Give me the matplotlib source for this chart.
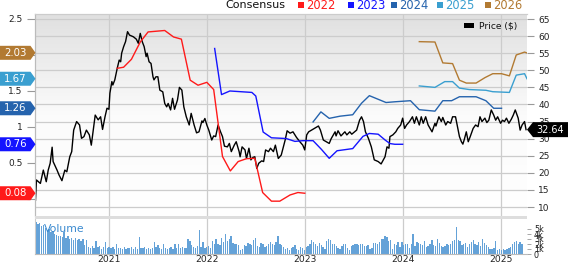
import numpy as np
import matplotlib
matplotlib.use("Agg")
import matplotlib.pyplot as plt
from matplotlib.patches import Polygon, Rectangle
from matplotlib.transforms import IdentityTransform
from matplotlib.colors import LinearSegmentedColormap

plt.rcParams['font.family'] = ['DejaVu Sans']

# ---------------- data ----------------
price_t_2020 = [2020.25, 2020.26, 2020.30, 2020.33, 2020.36, 2020.38, 2020.40, 2020.42, 2020.43, 2020.47,
                2020.49, 2020.52, 2020.55, 2020.57, 2020.60, 2020.62, 2020.64, 2020.67, 2020.70, 2020.72,
                2020.745, 2020.77, 2020.80, 2020.82, 2020.86, 2020.89, 2020.915, 2020.935, 2020.96, 2020.98]
price_2020 = [12.0, 17.9, 16.9, 20.8, 17.4, 20.8, 22.8, 27.5, 23.3, 20.8,
              19.4, 17.7, 20.8, 20.3, 24.7, 26.2, 32.5, 35.0, 34.0, 30.1,
              30.6, 32.5, 31.1, 28.1, 36.9, 35.5, 36.4, 32.7, 36.4, 38.9]
price_t_2021 = [2021.00, 2021.01, 2021.03, 2021.04, 2021.06, 2021.085, 2021.105, 2021.12, 2021.13, 2021.15,
                2021.17, 2021.19, 2021.21, 2021.25, 2021.28, 2021.30, 2021.32, 2021.34, 2021.36, 2021.38,
                2021.39, 2021.41, 2021.43, 2021.45, 2021.46, 2021.48, 2021.50, 2021.52, 2021.55, 2021.57,
                2021.59, 2021.605, 2021.63, 2021.65, 2021.67, 2021.70, 2021.72, 2021.745, 2021.765, 2021.79,
                2021.82, 2021.84, 2021.87, 2021.895, 2021.92, 2021.95, 2021.96, 2021.98]
price_2021 = [38.6, 43.3, 46.7, 45.7, 47.2, 50.6, 53.0, 52.5, 55.0, 56.9,
              58.4, 61.3, 60.3, 59.8, 59.1, 57.9, 60.8, 58.4, 56.9, 54.0,
              55.0, 52.5, 52.0, 48.1, 47.2, 48.1, 48.1, 44.2, 43.7, 40.3,
              39.3, 40.3, 38.4, 41.8, 38.6, 41.3, 45.0, 44.2, 39.3, 36.4,
              34.0, 37.4, 34.0, 31.7, 32.0, 35.2, 34.7, 35.9]
price_t_2022 = [2022.00, 2022.02, 2022.05, 2022.07, 2022.09, 2022.115, 2022.14, 2022.16, 2022.18, 2022.21,
                2022.23, 2022.25, 2022.28, 2022.30, 2022.31, 2022.33, 2022.34, 2022.36, 2022.39, 2022.405,
                2022.43, 2022.45, 2022.47, 2022.49, 2022.51, 2022.53, 2022.56, 2022.58, 2022.60, 2022.63,
                2022.65, 2022.68, 2022.70, 2022.73, 2022.76, 2022.80, 2022.82, 2022.85, 2022.88, 2022.915,
                2022.95, 2022.98]
price_2022 = [34.0, 32.5, 29.6, 30.8, 30.6, 34.0, 32.0, 30.6, 27.8, 27.6,
              28.6, 26.2, 28.1, 29.1, 28.1, 26.2, 24.7, 27.6, 26.7, 24.2,
              27.2, 23.8, 24.5, 24.7, 21.3, 22.8, 23.5, 23.3, 26.7, 26.2,
              27.2, 26.2, 28.1, 24.2, 25.2, 29.6, 32.3, 31.6, 32.0, 30.4,
              29.1, 28.1]
price_t_2023 = [2023.00, 2023.02, 2023.04, 2023.07, 2023.10, 2023.14, 2023.16, 2023.19, 2023.22, 2023.25,
                2023.27, 2023.31, 2023.32, 2023.34, 2023.37, 2023.41, 2023.43, 2023.46, 2023.48, 2023.51,
                2023.53, 2023.56, 2023.58, 2023.60, 2023.62, 2023.65, 2023.68, 2023.71, 2023.75, 2023.78,
                2023.82, 2023.84, 2023.86, 2023.87, 2023.90, 2023.93, 2023.95, 2023.98]
price_2023 = [26.7, 31.1, 32.0, 32.5, 33.0, 33.7, 32.5, 29.6, 29.1, 28.6,
              30.0, 32.0, 30.8, 32.3, 30.8, 32.0, 31.1, 32.0, 31.3, 32.0,
              32.5, 35.4, 36.4, 35.0, 32.0, 30.1, 27.6, 23.8, 23.3, 22.6,
              24.7, 27.6, 27.2, 30.6, 31.1, 32.0, 33.0, 34.0]
price_t_2024 = [2024.00, 2024.02, 2024.04, 2024.07, 2024.10, 2024.12, 2024.14, 2024.17, 2024.19, 2024.21,
                2024.235, 2024.26, 2024.28, 2024.30, 2024.33, 2024.34, 2024.37, 2024.395, 2024.41, 2024.44,
                2024.46, 2024.49, 2024.51, 2024.54, 2024.56, 2024.58, 2024.60, 2024.615, 2024.63, 2024.65,
                2024.67, 2024.69, 2024.72, 2024.745, 2024.77, 2024.79, 2024.81, 2024.84, 2024.86, 2024.88,
                2024.905, 2024.93, 2024.95, 2024.97]
price_2024 = [36.0, 33.0, 34.0, 35.0, 36.4, 34.5, 36.4, 34.0, 36.4, 34.5,
              36.4, 34.0, 33.0, 32.0, 34.5, 33.7, 36.4, 35.0, 36.2, 34.0,
              35.0, 34.5, 36.4, 36.4, 33.5, 30.6, 29.1, 28.4, 29.8, 32.0,
              29.1, 30.6, 33.0, 34.0, 33.5, 36.4, 35.0, 36.0, 34.7, 35.4,
              38.4, 36.9, 35.4, 36.4]
price_t_2025 = [2025.00, 2025.02, 2025.04, 2025.06, 2025.085, 2025.11, 2025.13, 2025.15, 2025.18, 2025.20,
                2025.22, 2025.245, 2025.26]
price_2025 = [34.5, 35.4, 35.0, 36.0, 34.5, 35.7, 36.9, 38.4, 36.0, 32.5,
              34.0, 35.0, 32.64]

eps22_t = [2021.085, 2021.15, 2021.23, 2021.32, 2021.40, 2021.57, 2021.66, 2021.74, 2021.83, 2021.91,
           2022.00, 2022.07, 2022.16, 2022.24, 2022.32, 2022.405, 2022.49, 2022.57, 2022.66, 2022.745,
           2022.85, 2022.93, 2023.00]
eps22 = [1.815, 1.83, 1.94, 2.18, 2.32, 2.34, 2.25, 2.22, 1.65, 1.58,
         1.62, 1.52, 0.59, 0.39, 0.52, 0.56, 0.565, 0.09, -0.03, -0.03,
         0.056, 0.09, 0.08]
eps23_t = [2022.08, 2022.15, 2022.235, 2022.46, 2022.50, 2022.575, 2022.66, 2022.81, 2022.90, 2022.98,
           2023.085, 2023.17, 2023.25, 2023.33, 2023.49, 2023.595, 2023.66, 2023.75, 2023.82, 2023.87,
           2023.92, 2024.00]
eps23 = [2.09, 1.45, 1.50, 1.48, 1.43, 0.93, 0.85, 0.84, 0.80, 0.81,
         0.81, 0.69, 0.565, 0.67, 0.70, 0.87, 0.91, 0.90, 0.82, 0.77,
         0.76, 0.76]
eps24_t = [2023.085, 2023.165, 2023.25, 2023.36, 2023.49, 2023.58, 2023.66, 2023.83, 2023.92, 2024.08,
           2024.17, 2024.33, 2024.41, 2024.50, 2024.58, 2024.75, 2024.85, 2024.93, 2025.01]
eps24 = [1.07, 1.21, 1.12, 1.15, 1.17, 1.33, 1.435, 1.34, 1.35, 1.365,
         1.24, 1.22, 1.365, 1.365, 1.42, 1.42, 1.365, 1.26, 1.26]
eps25_t = [2024.17, 2024.33, 2024.43, 2024.51, 2024.58, 2024.68, 2024.85, 2024.92, 2025.09, 2025.16,
           2025.245, 2025.27]
eps25 = [1.57, 1.55, 1.63, 1.63, 1.54, 1.52, 1.51, 1.49, 1.48, 1.72,
         1.74, 1.67]
eps26_t = [2024.17, 2024.33, 2024.41, 2024.51, 2024.58, 2024.65, 2024.75, 2024.84, 2024.92, 2025.01,
           2025.09, 2025.16, 2025.245, 2025.265]
eps26 = [2.185, 2.18, 1.89, 1.88, 1.65, 1.61, 1.61, 1.685, 1.74, 1.74,
         1.71, 2.00, 2.04, 2.03]

# weekly volume, thousands of shares
volume_k = [6.5, 6.0, 6.3, 5.6, 5.8, 5.2, 4.8, 5.0, 4.4, 4.6, 4.1, 3.8, 3.6,
            3.7, 3.5, 4.5, 3.3, 3.6, 3.0, 3.3, 2.8, 3.2, 2.9, 3.1, 2.7, 3.0,
            1.8, 2.8, 1.5, 1.3, 1.7, 1.2, 2.7, 1.4, 1.6, 1.1, 1.5, 2.5, 1.3,
            1.4, 1.2, 1.5, 1.0, 2.0, 1.3, 1.2, 1.1, 1.4, 1.0, 1.3, 1.2, 1.5,
            1.1, 1.4, 1.0, 3.5, 1.3, 1.2, 1.5, 1.1, 1.3, 1.0, 1.2, 2.5, 1.4,
            1.8, 1.2, 1.1, 2.1, 1.3, 1.0, 1.2, 1.4, 1.1, 2.0, 1.3, 2.0, 1.2,
            1.5, 1.3, 1.2, 3.1, 2.7, 1.8, 1.4, 1.3, 1.6, 4.9, 1.5, 2.5, 1.2,
            1.5, 1.6, 1.3, 2.7, 2.0, 3.1, 2.0, 1.8, 3.3, 2.5, 4.0, 2.6, 3.1,
            3.7, 2.3, 2.1, 2.0, 1.9, 0.9, 1.0, 1.8, 1.7, 2.3, 2.0, 1.8, 2.9,
            3.3, 1.6, 1.5, 2.3, 2.1, 1.5, 1.6, 2.1, 2.4, 2.0, 1.8, 2.5, 3.6,
            2.0, 1.8, 1.5, 1.1, 1.3, 0.9, 1.3, 1.5, 1.8, 1.1, 0.9, 1.5, 1.3,
            0.9, 1.5, 1.6, 2.1, 2.8, 2.5, 2.0, 1.6, 2.3, 1.8, 1.5, 1.0, 2.7,
            3.1, 2.8, 2.0, 2.0, 1.6, 1.3, 1.1, 1.6, 2.0, 2.1, 1.3, 0.9, 1.6,
            1.8, 2.0, 2.1, 1.9, 2.0, 2.0, 1.6, 1.6, 1.8, 1.1, 1.3, 2.3, 2.3,
            2.0, 2.5, 3.0, 3.1, 3.6, 3.5, 2.7, 2.9, 1.1, 2.0, 1.8, 2.5, 1.5,
            2.5, 1.8, 2.0, 2.1, 1.3, 2.1, 4.0, 1.6, 2.5, 2.3, 2.1, 1.8, 2.7,
            1.5, 1.6, 2.1, 2.9, 1.8, 1.6, 3.1, 2.3, 1.6, 1.5, 1.6, 2.0, 1.8,
            2.1, 2.7, 2.9, 5.5, 2.9, 2.7, 1.8, 2.1, 2.3, 1.5, 2.1, 2.5, 2.9,
            2.1, 1.8, 2.5, 1.6, 3.1, 2.3, 1.8, 1.5, 1.1, 1.1, 1.3, 2.7, 0.9,
            1.1, 0.9, 1.0, 0.9, 1.1, 1.3, 1.5, 2.1, 2.5, 2.7, 2.0, 2.5, 2.1]
vol_first_week = 2020.255

years = [2021, 2022, 2023, 2024, 2025]
price_ticks = [10, 15, 20, 25, 30, 35, 40, 45, 50, 55, 60, 65]
eps_ticks = [0, 0.5, 1, 1.5, 2, 2.5]
eps_tick_labels = ['', '0.5', '1', '1.5', '', '2.5']   # 0 and 2 sit under the value tags
vol_ticks = [0, 1, 2, 3, 4, 5]
vol_tick_labels = ['0', '1k', '2k', '3k', '4k', '5k']

series_names = ['2022', '2023', '2024', '2025', '2026']
series_colors = ['#ff1a1a', '#1414ff', '#2563ad', '#3a9fd0', '#b27a32']
last_price = 32.64

# ---------------- layout ----------------
W, H = 568, 264
fig = plt.figure(figsize=(W / 100, H / 100), dpi=100)


def box(l, t, r, b):
    return [l / W, 1 - b / H, (r - l) / W, (b - t) / H]


def fx(x):
    return x / W


def fy(y):
    return 1 - y / H


XMIN, XMAX = 2020.245, 2025.27
ax = fig.add_axes(box(35, 14, 527, 216))
axv = fig.add_axes(box(35, 218, 527, 254))
ax2 = ax.twinx()

PMIN, PMAX = 7.37, 66.47
EMIN, EMAX = -0.236, 2.569

# background gradient
cmap = LinearSegmentedColormap.from_list('bg', [(0.0, '#ffffff'), (0.5, '#fbfbfb'), (1.0, '#e0e0e0')])
grad = np.linspace(0, 1, 256).reshape(-1, 1)
ax.imshow(grad, extent=[XMIN, XMAX, PMIN, PMAX], origin='lower', aspect='auto', cmap=cmap, zorder=0)

price_t = price_t_2020 + price_t_2021 + price_t_2022 + price_t_2023 + price_t_2024 + price_t_2025
price = price_2020 + price_2021 + price_2022 + price_2023 + price_2024 + price_2025
ax.plot(price_t, price, color='black', lw=1.0, zorder=5)

eps_t = [eps22_t, eps23_t, eps24_t, eps25_t, eps26_t]
eps_v = [eps22, eps23, eps24, eps25, eps26]
for t, v, c in zip(eps_t, eps_v, series_colors):
    ax2.plot(t, v, color=c, lw=1.0)

ax.set_xlim(XMIN, XMAX)
ax.set_ylim(PMIN, PMAX)
ax2.set_ylim(EMIN, EMAX)

ax.set_yticks(price_ticks)
ax.set_yticklabels([str(v) for v in price_ticks])
ax.yaxis.tick_right()
ax.tick_params(axis='y', right=True, left=False, length=5, width=0.8, color='#999999',
               labelsize=6.5, labelcolor='#222222', pad=3)
ax.set_xticks(years)
ax.tick_params(axis='x', bottom=False, labelbottom=False)
ax.grid(True, color='#cccccc', lw=0.9)

ax2.yaxis.tick_left()
ax2.set_yticks(eps_ticks)
ax2.set_yticklabels(eps_tick_labels)
ax2.tick_params(axis='y', left=True, right=False, labelleft=True, labelright=False, length=6, width=0.8,
                color='#999999', labelsize=6.5, labelcolor='#222222', pad=3)

for a in (ax, ax2):
    for s in ('right', 'bottom'):
        a.spines[s].set_visible(False)
    a.spines['left'].set_color('#bbbbbb')
    a.spines['top'].set_color('#cccccc')

# volume panel
vol_t = vol_first_week + np.arange(len(volume_k)) * 7 / 365.25
axv.bar(vol_t, volume_k, width=5 / 365.25, color='#64a2d8', edgecolor='none', zorder=2)
axv.set_xlim(XMIN, XMAX)
axv.set_ylim(0, 7.2)
axv.set_xticks(years)
axv.set_xticklabels([str(y) for y in years])
axv.tick_params(axis='x', length=0, labelsize=6.6, labelcolor='#222222', pad=0.5)
axv.yaxis.tick_right()
axv.set_yticks(vol_ticks)
axv.set_yticklabels(vol_tick_labels)
axv.tick_params(axis='y', length=3, width=0.6, color='#999999', labelsize=5.8, labelcolor='#222222', pad=2)
axv.grid(True, axis='x', color='#cccccc', lw=0.9, zorder=0)
axv.set_axisbelow(True)
for s in ('right', 'top'):
    axv.spines[s].set_visible(False)
axv.spines['left'].set_color('#cccccc')
axv.spines['bottom'].set_color('#bbbbbb')
fig.text(fx(44), fy(229), 'Volume', fontsize=7.8, color='#3a8ad0', ha='left', va='center', zorder=6)

# separator band between panels
fig.add_artist(Rectangle((fx(35), fy(218.6)), fx(527) - fx(35), 2.4 / H, transform=fig.transFigure,
                         facecolor='#dddddd', edgecolor='none'))

# legend at top
fig.text(fx(285), fy(5.5), 'Consensus', fontsize=8, color='#111111', ha='right', va='center')
leg_x = [298, 348, 391, 437, 485]
for lx, name, c in zip(leg_x, series_names, series_colors):
    fig.add_artist(Rectangle((fx(lx), fy(8)), 6 / W, 5.5 / H, transform=fig.transFigure,
                             facecolor=c, edgecolor='none'))
    fig.text(fx(lx + 8.5), fy(5.5), name, fontsize=8.3, color=c, ha='left', va='center')

# price legend
fig.add_artist(Rectangle((fx(464), fy(28)), 10 / W, 4.5 / H, transform=fig.transFigure,
                         facecolor='black', edgecolor='none', zorder=8))
fig.text(fx(479), fy(25.7), 'Price ($)', fontsize=6.6, color='#111111', ha='left', va='center', zorder=8)

# value tags
ident = IdentityTransform()
left_px = ax2.transData.transform((XMIN, 0))[0]
last_vals = [eps22[-1], eps23[-1], eps24[-1], eps25[-1], eps26[-1]]
for v, c in zip(last_vals, series_colors):
    y = ax2.transData.transform((XMIN, v))[1]
    h = 7
    pts = [(0, y - h), (left_px - 4.5, y - h), (left_px + 0.5, y), (left_px - 4.5, y + h), (0, y + h)]
    fig.add_artist(Polygon(pts, closed=True, transform=ident, facecolor=c, edgecolor='none', zorder=10))
    fig.text(15.5, y, '{:.2f}'.format(v), transform=ident, fontsize=7.3, color='white',
             ha='center', va='center', zorder=11)

right_px = ax.transData.transform((XMAX, 0))[0]
yp = ax.transData.transform((XMAX, last_price))[1]
h = 7.5
pts = [(right_px, yp), (right_px + 6, yp - h), (W, yp - h), (W, yp + h), (right_px + 6, yp + h)]
fig.add_artist(Polygon(pts, closed=True, transform=ident, facecolor='black', edgecolor='none', zorder=10))
fig.text(550, yp, '{:.2f}'.format(last_price), transform=ident, fontsize=7, color='white',
         ha='center', va='center', zorder=11)

fig.savefig('out.png', dpi=100)
